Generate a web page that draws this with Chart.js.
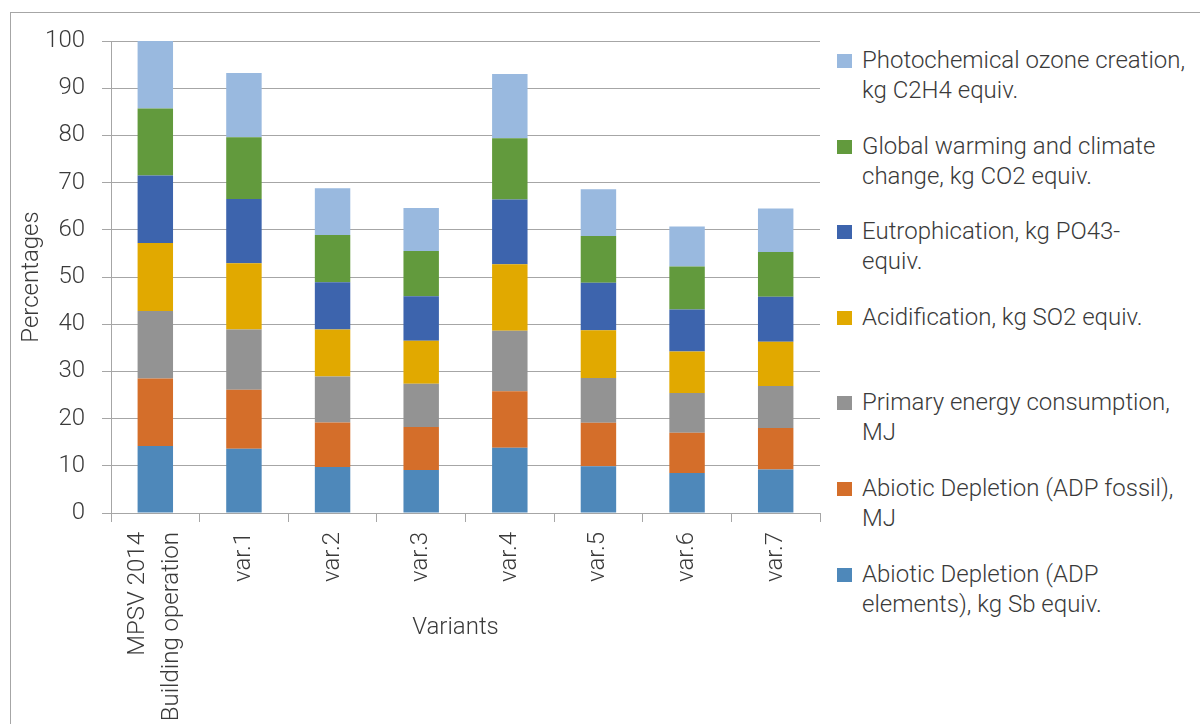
<!DOCTYPE html>
<html lang="en">
<head>
<meta charset="UTF-8">
<title>Variants - percentages</title>
<script src="https://cdn.jsdelivr.net/npm/chart.js"></script>
<style>
html, body { margin:0; padding:0; background:#fff; overflow:hidden; }
body { width:1200px; height:724px; position:relative; font-family: Roboto, Arial, sans-serif; font-weight:300; color:#3a3a3a; }
#frame { position:absolute; left:10px; top:12px; width:1250px; height:800px; border:1px solid #a6a6a6; }
#wrap { position:absolute; left:0; top:0; width:830px; height:724px; }
#legend { position:absolute; left:837px; top:45px; width:360px; }
.item { position:relative; height:85.6px; }
.box { position:absolute; left:0; top:9px; width:15px; height:14px; }
.txt { position:absolute; left:25px; top:0; font-size:24px; line-height:30px; white-space:nowrap; }
</style>
</head>
<body>
<div id="frame"></div>
<div id="wrap"><canvas id="chart" width="830" height="724"></canvas></div>
<div id="legend"></div>

<script>
// categories and tick values
const categories = [['MPSV 2014', 'Building operation'], 'var.1', 'var.2', 'var.3', 'var.4', 'var.5', 'var.6', 'var.7'];
const yTicks = [0, 10, 20, 30, 40, 50, 60, 70, 80, 90, 100];

// series (bottom of the stack first)
const adpElements = [14.2, 13.6, 9.75, 9.1, 13.8, 9.9, 8.5, 9.2];
const adpFossil   = [14.3, 12.5, 9.45, 9.1, 12.0, 9.2, 8.5, 8.8];
const primaryEnergy = [14.3, 12.8, 9.7, 9.2, 12.8, 9.5, 8.4, 8.9];
const acidification = [14.4, 14.0, 10.0, 9.1, 14.1, 10.1, 8.8, 9.4];
const eutrophication = [14.3, 13.6, 10.0, 9.4, 13.7, 10.1, 8.9, 9.5];
const globalWarming = [14.2, 13.1, 10.0, 9.6, 13.0, 9.9, 9.1, 9.5];
const photochemical = [14.3, 13.6, 9.9, 9.1, 13.6, 9.9, 8.5, 9.2];

const series = [
  {label:'Abiotic Depletion (ADP elements), kg Sb equiv.', lines:['Abiotic Depletion (ADP', 'elements), kg Sb equiv.'], data:adpElements, color:'#4E88BA'},
  {label:'Abiotic Depletion (ADP fossil), MJ', lines:['Abiotic Depletion (ADP fossil),', 'MJ'], data:adpFossil, color:'#D46E2A'},
  {label:'Primary energy consumption, MJ', lines:['Primary energy consumption,', 'MJ'], data:primaryEnergy, color:'#939393'},
  {label:'Acidification, kg SO2 equiv.', lines:['Acidification, kg SO2 equiv.'], data:acidification, color:'#E1A900'},
  {label:'Eutrophication, kg PO43- equiv.', lines:['Eutrophication, kg PO43-', 'equiv.'], data:eutrophication, color:'#3D64AD'},
  {label:'Global warming and climate change, kg CO2 equiv.', lines:['Global warming and climate', 'change, kg CO2 equiv.'], data:globalWarming, color:'#629A3D'},
  {label:'Photochemical ozone creation, kg C2H4 equiv.', lines:['Photochemical ozone creation,', 'kg C2H4 equiv.'], data:photochemical, color:'#99B9DF'}
];

const txt = '#3a3a3a';
const grid = '#a6a6a6';
const font = {family:'Roboto', weight:'300', size:24};

// "Variants" sits beside the rotated labels, not under them;
// also centre the two-line first label on its tick
const xTitle = {
  id: 'xTitle',
  beforeDraw(chart) {
    const sc = chart.scales.x;
    const items = sc.getLabelItems(chart.chartArea);
    items.forEach(it => {
      const n = Array.isArray(it.label) ? it.label.length : 1;
      if (n > 1 && !it._shifted) {
        it.options.translation[0] -= 17 * (n - 1);
        it._shifted = true;
      }
    });
  },
  afterDraw(chart) {
    const {ctx, chartArea} = chart;
    ctx.save();
    ctx.font = '300 24px Roboto';
    ctx.fillStyle = txt;
    ctx.textAlign = 'center';
    ctx.textBaseline = 'middle';
    ctx.fillText('Variants', (chartArea.left + chartArea.right) / 2 - 10, 628);
    ctx.restore();
  }
};

new Chart(document.getElementById('chart'), {
  type: 'bar',
  data: {
    labels: categories,
    datasets: series.map(s => ({
      label: s.label, data: s.data, backgroundColor: s.color,
      barPercentage: 0.4, categoryPercentage: 1.0
    }))
  },
  options: {
    responsive: false,
    animation: false,
    layout: { padding: {left:0, top:41, right:10, bottom:0} },
    plugins: { legend:{display:false}, tooltip:{enabled:false} },
    scales: {
      x: {
        stacked: true,
        grid: { drawOnChartArea:false, offset:true, tickLength:9, color:grid },
        border: { color:grid },
        ticks: { color:txt, font:{...font, lineHeight:1.4}, maxRotation:90, minRotation:90, autoSkip:false, padding:10 },
        afterFit(s) { s.height = 211; s.paddingLeft = 0; s.paddingRight = 0; }
      },
      y: {
        stacked: true,
        min: 0, max: 100,
        afterBuildTicks(s) { s.ticks = yTicks.map(v => ({value:v})); },
        grid: { color:grid, tickLength:9 },
        border: { color:grid },
        ticks: { color:txt, font:font, padding:17 },
        title: { display:true, text:'Percentages', color:txt, font:font, padding:{top:18, bottom:0} },
        afterFit(s) { s.width = 111; s.paddingTop = 0; s.paddingBottom = 0; }
      }
    }
  },
  plugins: [xTitle]
});

// legend on the right, top item is the top of the stack
const legend = document.getElementById('legend');
series.slice().reverse().forEach(s => {
  const it = document.createElement('div');
  it.className = 'item';
  it.innerHTML = '<div class="box" style="background:' + s.color + '"></div><div class="txt">' + s.lines.join('<br>') + '</div>';
  legend.appendChild(it);
});
</script>
</body>
</html>
